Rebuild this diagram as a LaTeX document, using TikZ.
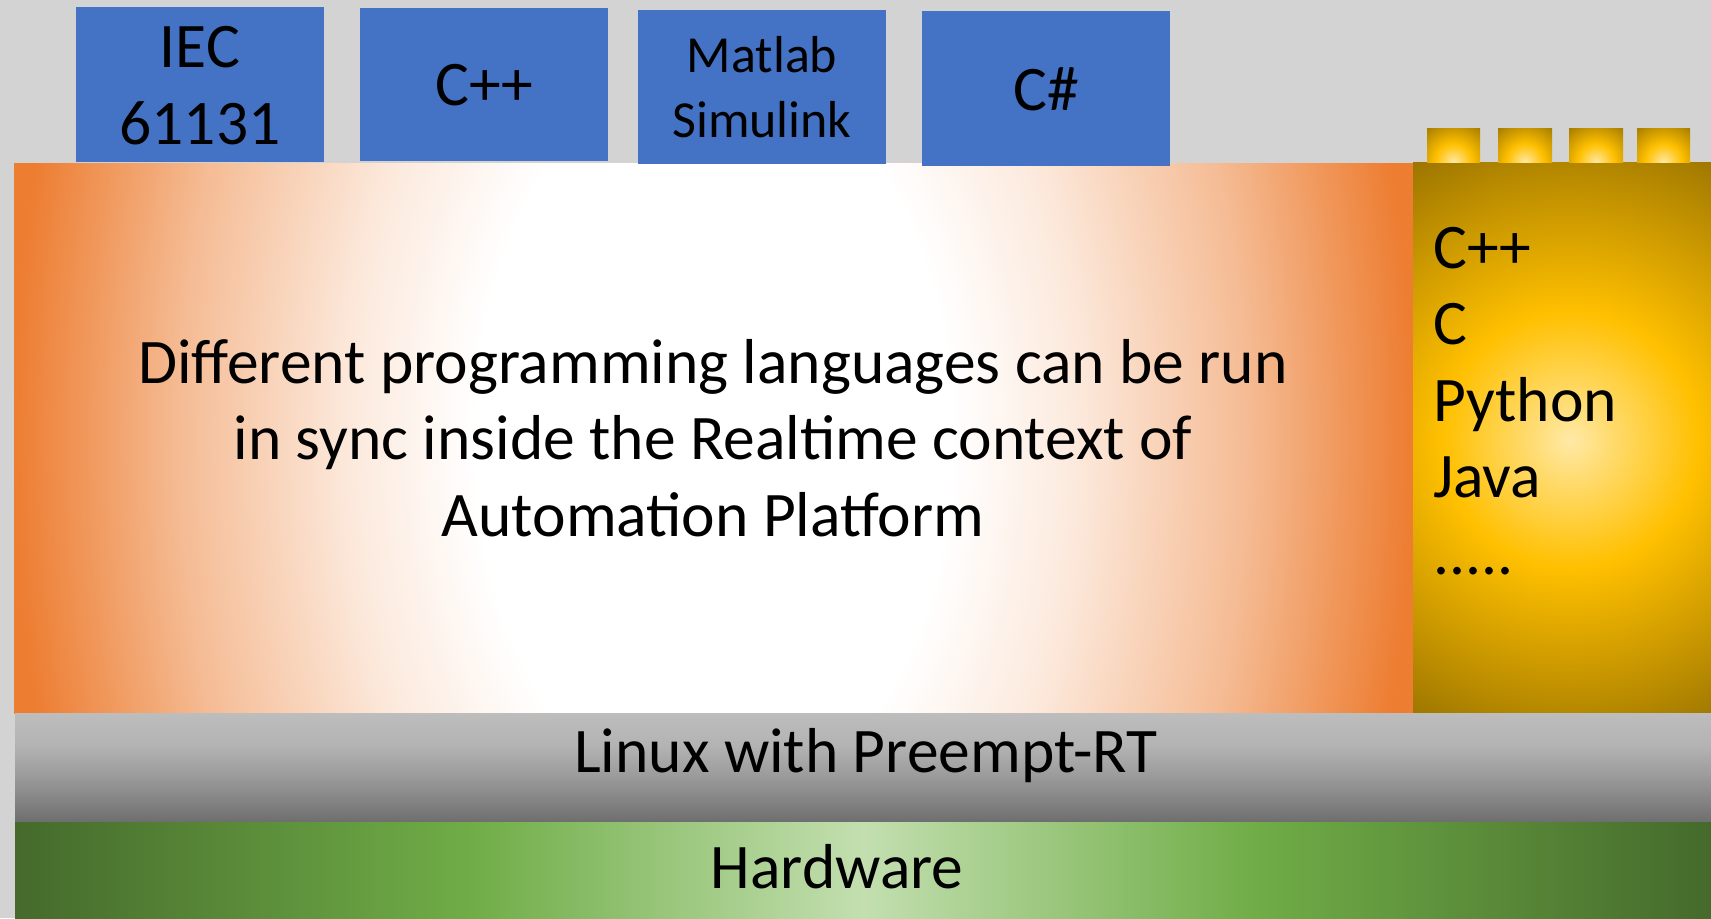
\documentclass[tikz,border=0pt]{standalone}
\usepackage{fontspec}
\setmainfont{Carlito}

% palette
\definecolor{bgc}{HTML}{D3D3D3}
\definecolor{boxblue}{HTML}{4472C4}
\definecolor{orng}{HTML}{ED7D31}
\definecolor{orA}{HTML}{FCE9DC}
\definecolor{orB}{HTML}{F5BC95}
\definecolor{gA}{HTML}{FFE9A6}
\definecolor{gB}{HTML}{FFDA6A}
\definecolor{gC}{HTML}{FFC000}
\definecolor{gD}{HTML}{9C7500}
\definecolor{grD}{HTML}{456A2C}
\definecolor{grM}{HTML}{70AD47}
\definecolor{grL}{HTML}{C3DFB0}
\definecolor{gyB}{HTML}{6E6E6E}
\definecolor{gyM}{HTML}{999999}
\definecolor{gyU}{HTML}{B3B3B3}
\definecolor{gyT}{HTML}{BDBDBD}

% shadings for the layers (the filled path spans 25bp..75bp of each shading)
\pgfdeclareradialshading{orangeglow}{\pgfpoint{0bp}{0bp}}{%
  color(0bp)=(white); color(8.5bp)=(white); color(13bp)=(orA);
  color(19bp)=(orB); color(25bp)=(orng); color(50bp)=(orng)}
\pgfdeclareradialshading{goldglow}{\pgfpoint{0bp}{0bp}}{%
  color(0bp)=(gA); color(3.5bp)=(gB); color(10bp)=(gC); color(25bp)=(gD);
  color(50bp)=(gD)}
\pgfdeclarehorizontalshading{greenband}{100bp}{%
  color(0bp)=(grD); color(25bp)=(grD); color(38.5bp)=(grM); color(50bp)=(grL);
  color(61.5bp)=(grM); color(75bp)=(grD); color(100bp)=(grD)}
\pgfdeclareverticalshading{grayband}{100bp}{%
  color(0bp)=(gyB); color(25bp)=(gyB); color(45bp)=(gyM); color(60bp)=(gyU);
  color(75bp)=(gyT); color(100bp)=(gyT)}

\begin{document}
\begin{tikzpicture}[x=1bp,y=-1bp,
  lbl/.style={inner sep=0pt, text=black, font=\fontsize{63.5bp}{76.5bp}\selectfont},
  smalllbl/.style={inner sep=0pt, text=black, font=\fontsize{52bp}{65bp}\selectfont},
  langbox/.style={fill=boxblue, draw=none}]

% background
\fill[bgc] (0,0) rectangle (1711,918);
\useasboundingbox (0,0) rectangle (1711,918);

% realtime layer
\begin{scope}
  \clip (14,163) rectangle (1413,713);
  \shade[shading=orangeglow] (13,-663) rectangle (1413,1537);
\end{scope}

% user-space panel
\begin{scope}
  \clip (1413,162) rectangle (1711,713);
  \shade[shading=goldglow] (1570,440) circle (320bp);
\end{scope}

% studs on the user-space panel
\foreach \xa/\xb in {1427/1480, 1498/1552, 1569/1623, 1637/1690}{
  \begin{scope}
    \clip (\xa,128) rectangle (\xb,162);
    \shade[shading=goldglow] ({(\xa+\xb)/2},162) circle (46bp);
  \end{scope}
}

% language boxes
\fill[langbox] (76,7) rectangle (324,162);
\fill[langbox] (360,8) rectangle (608,161);
\fill[langbox] (638,10) rectangle (886,164);
\fill[langbox] (922,11) rectangle (1170,166);

% operating system and hardware bands
\shade[shading=grayband] (15,713) rectangle (1711,822);
\shade[shading=greenband] (15,822) rectangle (1711,918);

% labels (base anchor = baseline of the last line)
\node[lbl, align=center, anchor=base] (iec) at (200,144) {IEC\\61131};
\node[lbl, anchor=base] (cpp) at (484,105) {C++};
\node[smalllbl, align=center, anchor=base] (mat) at (762,137) {Matlab\\Simulink};
\node[lbl, anchor=base] (cs) at (1046,110) {C\#};
\node[lbl, align=center, anchor=base] (main) at (713,536)
  {Different programming languages can be run\\in sync inside the Realtime context of\\Automation Platform};
\node[lbl, align=left, anchor=base west] (list) at (1433,574) {C++\\C\\Python\\Java\\.....};
\node[lbl, anchor=base] (linux) at (866,772) {Linux with Preempt-RT};
\node[lbl, anchor=base] (hw) at (837,888) {Hardware};
\end{tikzpicture}
\end{document}
